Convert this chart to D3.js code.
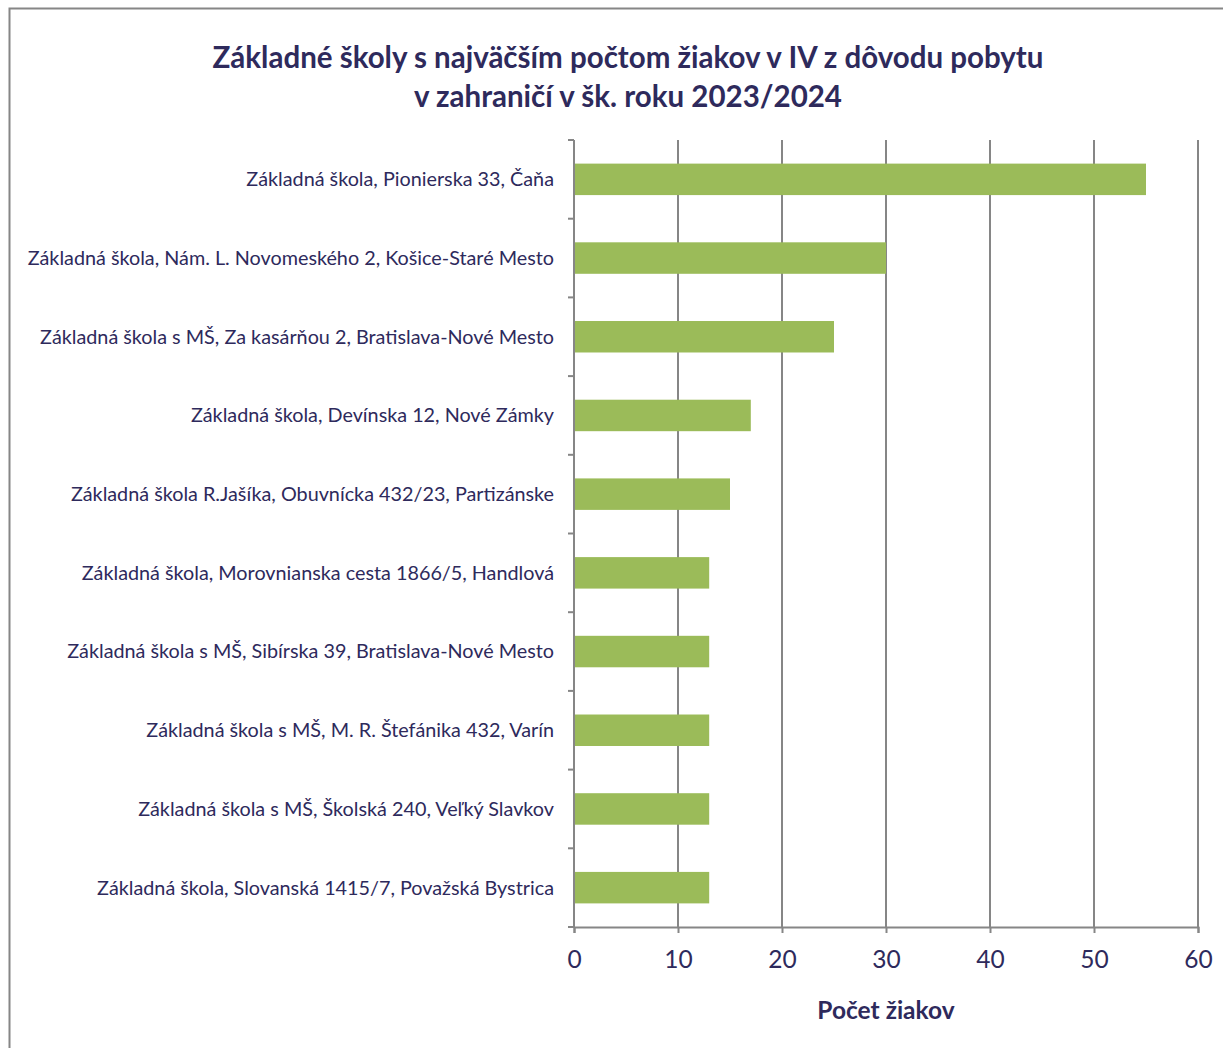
<!DOCTYPE html>
<html>
<head>
<meta charset="utf-8">
<script src="https://cdn.jsdelivr.net/npm/d3@7"></script>
<style>
  body { margin: 0; background: #fff; }
  text { font-family: Lato, "Open Sans", sans-serif; }
</style>
</head>
<body>
<div id="chart"></div>
<script>
// data
var schools = [
    "Základná škola, Pionierska 33, Čaňa",
    "Základná škola, Nám. L. Novomeského 2, Košice-Staré Mesto",
    "Základná škola s MŠ, Za kasárňou 2, Bratislava-Nové Mesto",
    "Základná škola, Devínska 12, Nové Zámky",
    "Základná škola R.Jašíka, Obuvnícka 432/23, Partizánske",
    "Základná škola, Morovnianska cesta 1866/5, Handlová",
    "Základná škola s MŠ, Sibírska 39, Bratislava-Nové Mesto",
    "Základná škola s MŠ, M. R. Štefánika 432, Varín",
    "Základná škola s MŠ, Školská 240, Veľký Slavkov",
    "Základná škola, Slovanská 1415/7, Považská Bystrica"
];
var pupils = [55, 30, 25, 17, 15, 13, 13, 13, 13, 13];
var xTicks = [0, 10, 20, 30, 40, 50, 60];
var titleLines = ["Základné školy s najväčším počtom žiakov v IV z dôvodu pobytu",
                  "v zahraničí v šk. roku 2023/2024"];
var xTitle = "Počet žiakov";

var svgWidth = 1223;
var svgHeight = 1048;
var margin = { top: 140, right: 25, bottom: 121, left: 574 };
var width = svgWidth - margin.left - margin.right;
var height = svgHeight - margin.top - margin.bottom;
var textColor = "#2e2a5c";
var gridColor = "#868686";

var svg = d3.select("#chart")
    .append("svg")
    .attr("width", svgWidth)
    .attr("height", svgHeight);

// outer frame (cut by the picture on the right and bottom)
svg.append("rect")
    .attr("x", 9.5).attr("y", 8.5)
    .attr("width", 1240).attr("height", 1060)
    .attr("fill", "none")
    .attr("stroke", gridColor)
    .attr("stroke-width", 2);

// title
svg.selectAll(".title")
    .data(titleLines)
    .enter()
    .append("text")
    .attr("class", "title")
    .attr("x", 628)
    .attr("y", (d, i) => 68 + i * 39)
    .attr("text-anchor", "middle")
    .attr("font-size", "29.5px")
    .attr("font-weight", "bold")
    .attr("fill", textColor)
    .text(d => d);

var chartGroup = svg.append("g")
    .attr("transform", `translate(${margin.left}, ${margin.top})`);

var xScale = d3.scaleLinear()
    .domain([0, 60])
    .range([0, 624]);

var yScale = d3.scaleBand()
    .domain(schools)
    .range([0, height])
    .paddingInner(0.6)
    .paddingOuter(0.3);

// vertical gridlines
chartGroup.selectAll(".grid")
    .data(xTicks.slice(1))
    .enter()
    .append("line")
    .attr("class", "grid")
    .attr("x1", d => xScale(d)).attr("x2", d => xScale(d))
    .attr("y1", 0).attr("y2", height)
    .attr("stroke", gridColor)
    .attr("stroke-width", 2);

// bars
chartGroup.selectAll(".bar")
    .data(pupils)
    .enter()
    .append("rect")
    .attr("class", "bar")
    .attr("x", 0)
    .attr("y", (d, i) => yScale(schools[i]))
    .attr("width", d => xScale(d))
    .attr("height", yScale.bandwidth())
    .attr("fill", "#9bbb59");

// y axis: line, ticks at band boundaries, labels
var step = height / schools.length;
chartGroup.append("line")
    .attr("x1", 0).attr("x2", 0)
    .attr("y1", 0).attr("y2", height)
    .attr("stroke", gridColor)
    .attr("stroke-width", 2);

chartGroup.selectAll(".ytick")
    .data(d3.range(schools.length + 1))
    .enter()
    .append("line")
    .attr("class", "ytick")
    .attr("x1", -6).attr("x2", 0)
    .attr("y1", d => d * step).attr("y2", d => d * step)
    .attr("stroke", gridColor)
    .attr("stroke-width", 2);

chartGroup.selectAll(".ylabel")
    .data(schools)
    .enter()
    .append("text")
    .attr("class", "ylabel")
    .attr("x", -20)
    .attr("y", d => yScale(d) + yScale.bandwidth() / 2)
    .attr("dy", "0.35em")
    .attr("text-anchor", "end")
    .attr("font-size", "19.8px")
    .attr("fill", textColor)
    .text(d => d);

// x axis
var bottomAxis = d3.axisBottom(xScale)
    .tickValues(xTicks)
    .tickSize(6)
    .tickPadding(18);

var xAxis = chartGroup.append("g")
    .attr("transform", `translate(0, ${height})`)
    .call(bottomAxis);

xAxis.select(".domain").attr("stroke", gridColor).attr("stroke-width", 2);
xAxis.selectAll(".tick line").attr("stroke", gridColor).attr("stroke-width", 2);
xAxis.selectAll(".tick text")
    .attr("font-size", "24.5px")
    .attr("font-family", "Lato, sans-serif")
    .attr("fill", textColor);

chartGroup.append("text")
    .attr("x", xScale(30))
    .attr("y", height + 92)
    .attr("text-anchor", "middle")
    .attr("font-size", "24.5px")
    .attr("font-weight", "bold")
    .attr("fill", textColor)
    .text(xTitle);
</script>
</body>
</html>
